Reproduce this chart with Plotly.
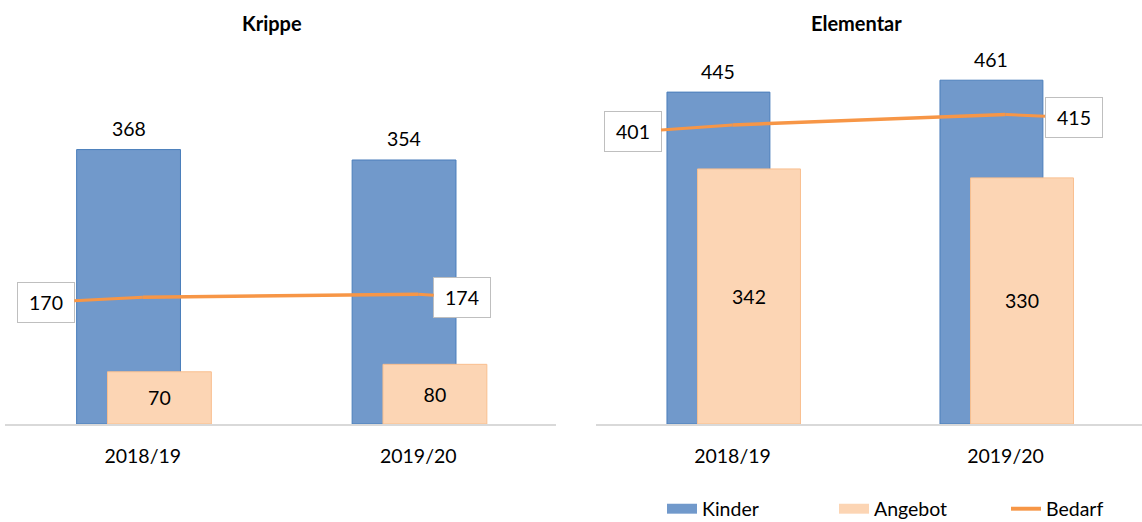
import plotly.graph_objects as go

categories = ["2018/19", "2019/20"]
panels = ["Krippe", "Elementar"]
kinder = {"Krippe": [368, 354], "Elementar": [445, 461]}
angebot = {"Krippe": [70, 80], "Elementar": [342, 330]}
bedarf = {"Krippe": [170, 174], "Elementar": [401, 415]}

# styling
FONT = "Lato, 'Open Sans', sans-serif"
FS = 19.5
C_KIND = "#7199CB"
C_KIND_LINE = "#4A7EBB"
C_ANG = "#FCD5B4"
C_ANG_LINE = "#F9BF8F"
C_BED = "#F79646"
BW = 0.377
OFF_K = -0.24
OFF_A = -0.128
# label box offsets (px) for Bedarf labels per panel/category
label_off = {"Krippe": [(-97, 5), (44, 3)], "Elementar": [(-100, 7), (68, 3)]}
title_x = {"Krippe": 272 / 1142, "Elementar": 856 / 1142}

fig = go.Figure()
annotations = []

for i, p in enumerate(panels):
    xa = "x" if i == 0 else "x2"
    ya = "y" if i == 0 else "y2"
    fig.add_trace(go.Bar(
        x=categories, y=kinder[p], name="Kinder", xaxis=xa, yaxis=ya,
        width=BW, offset=OFF_K,
        marker=dict(color=C_KIND, line=dict(color=C_KIND_LINE, width=1)),
        showlegend=False, hoverinfo="skip",
    ))
    fig.add_trace(go.Bar(
        x=categories, y=angebot[p], name="Angebot", xaxis=xa, yaxis=ya,
        width=BW, offset=OFF_A,
        marker=dict(color=C_ANG, line=dict(color=C_ANG_LINE, width=1)),
        text=[str(v) for v in angebot[p]], textposition="inside",
        insidetextanchor="middle", textangle=0,
        textfont=dict(family=FONT, size=FS, color="#000000"),
        showlegend=False, hoverinfo="skip",
    ))
    fig.add_trace(go.Scatter(
        x=categories, y=bedarf[p], name="Bedarf", xaxis=xa, yaxis=ya,
        mode="lines", line=dict(color=C_BED, width=3.5),
        showlegend=False, hoverinfo="skip",
    ))
    # Kinder value labels above bars
    for j, (c, v) in enumerate(zip(categories, kinder[p])):
        annotations.append(dict(
            x=j + OFF_K + BW / 2, y=v, xref=xa, yref=ya, text=str(v),
            showarrow=False, yanchor="middle", yshift=21,
            font=dict(family=FONT, size=FS, color="#000000"),
        ))
    # Bedarf labels with leader lines
    for j, (c, v) in enumerate(zip(categories, bedarf[p])):
        ax, ay = label_off[p][j]
        annotations.append(dict(
            x=j, y=v, xref=xa, yref=ya, text=str(v),
            showarrow=True, arrowhead=0, arrowwidth=3, arrowcolor=C_BED,
            ax=ax, ay=ay, standoff=0, startstandoff=0,
            bgcolor="#FFFFFF", bordercolor="#BFBFBF", borderwidth=1,
            borderpad=2, width=52, height=35,
            font=dict(family=FONT, size=FS, color="#000000"),
        ))
    annotations.append(dict(
        x=title_x[p], y=23, xref="paper", yref="paper", text="<b>%s</b>" % p,
        showarrow=False, font=dict(family=FONT, size=20, color="#000000"),
        xanchor="center", yanchor="middle",
    ))

# legend entries (legend-only swatches)
legend_items = [("Kinder", C_KIND, 12), ("Angebot", C_ANG, 12), ("Bedarf", C_BED, 4)]
for name, col, w in legend_items:
    fig.add_trace(go.Scatter(
        x=[None], y=[None], name=name, mode="lines",
        line=dict(color=col, width=w), showlegend=True, hoverinfo="skip",
        legendwidth=60 if name == "Bedarf" else None,
    ))

H = 522
top, bottom = 44, 424
for a in annotations:
    if a.get("xref") == "paper":
        a["y"] = (bottom - a["y"]) / (bottom - top)

YMAX = (bottom - top) / 0.7458

xaxis_common = dict(
    type="category", range=[-0.5, 1.5], showline=True, linecolor="#D9D9D9",
    linewidth=2, showgrid=False, zeroline=False, ticks="",
    tickfont=dict(family=FONT, size=FS, color="#000000"),
    ticklabelstandoff=14, fixedrange=True,
)
yaxis_common = dict(
    range=[0, YMAX], showgrid=False, zeroline=False, showticklabels=False,
    showline=False, ticks="", fixedrange=True,
)

fig.update_layout(
    width=1142, height=H,
    margin=dict(l=0, r=0, t=top, b=H - bottom, pad=0, autoexpand=False),
    paper_bgcolor="#FFFFFF", plot_bgcolor="#FFFFFF",
    barmode="overlay",
    font=dict(family=FONT, size=FS, color="#000000"),
    xaxis=dict(domain=[5 / 1142, 556 / 1142], anchor="y", **xaxis_common),
    xaxis2=dict(domain=[596 / 1142, 1.0], anchor="y2", **xaxis_common),
    yaxis=dict(domain=[0, 1], anchor="x", **yaxis_common),
    yaxis2=dict(domain=[0, 1], anchor="x2", **yaxis_common),
    legend=dict(
        orientation="h", x=662 / 1142, xanchor="left",
        y=(bottom - 509) / (bottom - top), yanchor="middle",
        entrywidth=127, entrywidthmode="pixels",
        font=dict(family=FONT, size=FS, color="#000000"),
        bgcolor="rgba(0,0,0,0)", traceorder="normal",
    ),
    annotations=annotations,
    showlegend=True,
)

fig.write_html(
    "out.html",
    config={"displayModeBar": False},
    post_script="document.body.style.margin='0';document.body.style.padding='0';",
)
